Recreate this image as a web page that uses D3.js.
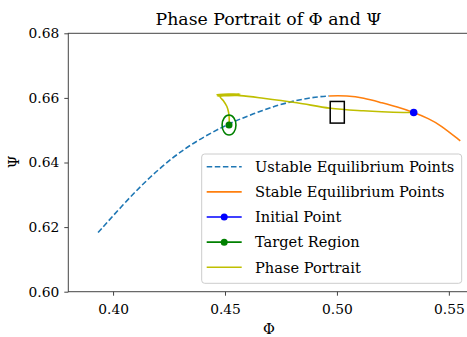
<!DOCTYPE html>
<html><head><meta charset="utf-8">
<script src="https://cdn.jsdelivr.net/npm/d3@7"></script>
<style>body{margin:0;background:#fff}svg{display:block}text{font-family:"DejaVu Serif",serif;fill:#000}</style>
</head><body><svg id="c" width="467" height="337"></svg>
<script>
// Data
const unstablePhi = [0.3933,0.4045,0.4150,0.4269,0.4373,0.4485,0.4567,0.4670,0.4761,0.4870,0.4965];
const unstablePsi = [0.6183,0.6270,0.6346,0.6418,0.6467,0.6509,0.6535,0.6562,0.6583,0.6600,0.6607];
const stablePhi = [0.4965,0.5045,0.5120,0.5194,0.5270,0.5343,0.5410,0.5462,0.5551];
const stablePsi = [0.6607,0.6607,0.6600,0.6586,0.6572,0.6555,0.6536,0.6516,0.6467];
const portraitPhi = [0.5343,0.5297,0.5200,0.5118,0.4970,0.4821,0.4671,0.4567,0.4464,0.4567,0.4466,0.4555,0.4478,0.4492,0.4508,0.4516,0.4519,0.4518];
const portraitPsi = [0.6555,0.6555,0.6557,0.6560,0.6568,0.6585,0.6599,0.6607,0.6610,0.6612,0.6606,0.6608,0.6604,0.6592,0.6574,0.6555,0.6532,0.6516];
const initialPoint = [0.5343,0.6555];
const targetPoint = [0.4518,0.6516];
const targetRadius = 0.0031;
const boxPhi = [0.4970,0.5033];
const boxPsi = [0.6522,0.6589];
const xTicks = [0.40,0.45,0.50,0.55];
const yTicks = [0.60,0.62,0.64,0.66,0.68];
const legendLabels = ["Ustable Equilibrium Points","Stable Equilibrium Points","Initial Point","Target Region","Phase Portrait"];

const svg = d3.select("#c");
const L=68.3, R=469, T=33.3, B=291.7;
const x = d3.scaleLinear().domain([0.38,0.559]).range([L,R]);
const y = d3.scaleLinear().domain([0.60,0.68]).range([B,T]);
const splitX = x(unstablePhi[unstablePhi.length-1]);

const defs = svg.append("defs");
defs.append("clipPath").attr("id","clip").append("rect").attr("x",L).attr("y",T).attr("width",R-L).attr("height",B-T);
defs.append("clipPath").attr("id","clipU").append("rect").attr("x",L).attr("y",T).attr("width",splitX-L).attr("height",B-T);
defs.append("clipPath").attr("id","clipS").append("rect").attr("x",splitX).attr("y",T).attr("width",R-splitX).attr("height",B-T);
const plot = svg.append("g").attr("clip-path","url(#clip)");
const line = d3.line().x(d=>x(d[0])).y(d=>y(d[1])).curve(d3.curveBasis);
const lineP = d3.line().x(d=>x(d[0])).y(d=>y(d[1])).curve(d3.curveCatmullRom.alpha(0.5));

const eq = unstablePhi.map((p,i)=>[p,unstablePsi[i]]).concat(stablePhi.slice(1).map((p,i)=>[p,stablePsi[i+1]]));
plot.append("path").datum(eq).attr("d",line).attr("clip-path","url(#clipU)")
 .attr("fill","none").attr("stroke","#1f77b4").attr("stroke-width",1.6).attr("stroke-dasharray","5.5,2.6");
plot.append("path").datum(eq).attr("d",line).attr("clip-path","url(#clipS)")
 .attr("fill","none").attr("stroke","#ff7f0e").attr("stroke-width",1.6);
plot.append("path").datum(portraitPhi.map((p,i)=>[p,portraitPsi[i]])).attr("d",lineP)
 .attr("fill","none").attr("stroke","#bfbf00").attr("stroke-width",1.6);
plot.append("ellipse").attr("cx",x(targetPoint[0])).attr("cy",y(targetPoint[1]))
 .attr("rx",x(targetPoint[0]+targetRadius)-x(targetPoint[0])).attr("ry",y(targetPoint[1])-y(targetPoint[1]+targetRadius))
 .attr("fill","none").attr("stroke","#008000").attr("stroke-width",1.6);
plot.append("circle").attr("cx",x(targetPoint[0])).attr("cy",y(targetPoint[1])).attr("r",3.5).attr("fill","#008000");
plot.append("circle").attr("cx",x(initialPoint[0])).attr("cy",y(initialPoint[1])).attr("r",3.8).attr("fill","#0000ff");
plot.append("rect").attr("x",x(boxPhi[0])).attr("y",y(boxPsi[1])).attr("width",x(boxPhi[1])-x(boxPhi[0])).attr("height",y(boxPsi[0])-y(boxPsi[1]))
 .attr("fill","none").attr("stroke","#000").attr("stroke-width",1.5);

const xa = svg.append("g").attr("transform",`translate(0,${B})`).call(d3.axisBottom(x).tickValues(xTicks).tickFormat(d3.format(".2f")).tickSize(4).tickSizeOuter(0));
const ya = svg.append("g").attr("transform",`translate(${L},0)`).call(d3.axisLeft(y).tickValues(yTicks).tickFormat(d3.format(".2f")).tickSize(4).tickSizeOuter(0));
[xa,ya].forEach(a=>{a.select(".domain").remove();a.selectAll("line").attr("stroke","#444").attr("stroke-width",1);
 a.selectAll("text").style("font-family",'"DejaVu Serif",serif').attr("font-size",13.8).attr("fill","#000");});
xa.selectAll("text").attr("dy","1.1em");
ya.selectAll("text").attr("dx","-0.15em");
svg.append("rect").attr("x",L).attr("y",T).attr("width",R-L).attr("height",B-T).attr("fill","none").attr("stroke","#444").attr("stroke-width",1);

svg.append("text").attr("x",268.5).attr("y",24.5).attr("text-anchor","middle").attr("font-size",17.3).text("Phase Portrait of Φ and Ψ");
svg.append("text").attr("x",269).attr("y",334).attr("text-anchor","middle").attr("font-size",14.5).text("Φ");
svg.append("text").attr("transform","translate(18.5,162) rotate(-90)").attr("text-anchor","middle").attr("font-size",14.5).text("Ψ");

const lg = svg.append("g");
lg.append("rect").attr("x",201.7).attr("y",154).attr("width",260).attr("height",129.3).attr("rx",3)
 .attr("fill","#fff").attr("fill-opacity",0.8).attr("stroke","#ccc").attr("stroke-width",1);
const styles=[{c:"#1f77b4",dash:"5.5,2.6",m:false},{c:"#ff7f0e",m:false},{c:"#0000ff",m:true},{c:"#008000",m:true},{c:"#bfbf00",m:false}];
legendLabels.forEach((t,i)=>{
 const yy=166.7+i*25.15;
 lg.append("line").attr("x1",206.7).attr("x2",241.7).attr("y1",yy).attr("y2",yy).attr("stroke",styles[i].c).attr("stroke-width",1.6).attr("stroke-dasharray",styles[i].dash||null);
 if(styles[i].m) lg.append("circle").attr("cx",224.2).attr("cy",yy).attr("r",3.5).attr("fill",styles[i].c);
 lg.append("text").attr("x",255).attr("y",yy+5.2).attr("font-size",14.6).text(t);
});
</script></body></html>
